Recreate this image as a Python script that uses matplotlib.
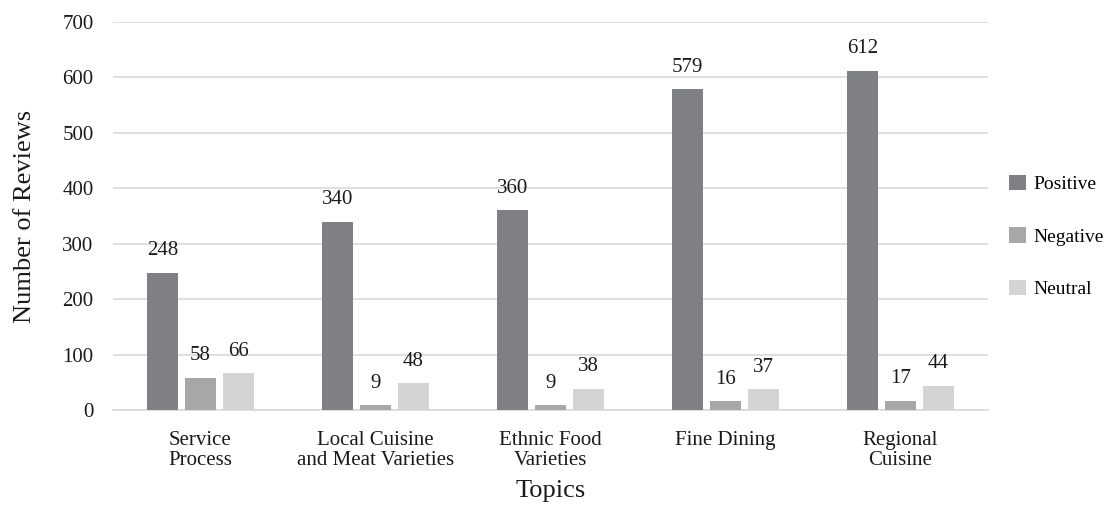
import matplotlib
matplotlib.use("Agg")
import matplotlib.pyplot as plt
import numpy as np

plt.rcParams['font.family'] = ['Liberation Serif', 'DejaVu Serif']

topics = ["Service\nProcess", "Local Cuisine\nand Meat Varieties", "Ethnic Food\nVarieties",
          "Fine Dining", "Regional\nCuisine"]
positive = [248, 340, 360, 579, 612]
negative = [58, 9, 9, 16, 17]
neutral = [66, 48, 38, 37, 44]
series_names = ["Positive", "Negative", "Neutral"]
colors = ["#7f8084", "#a7a7a9", "#d4d4d6"]

fig = plt.figure(figsize=(11.13, 5.07), dpi=100)
ax = fig.add_axes([113 / 1113, 1 - 410 / 507, 875 / 1113, 388 / 507])

x = np.arange(len(topics))
width = 0.177
step = 0.217
for i, (vals, name, col) in enumerate(zip([positive, negative, neutral], series_names, colors)):
    pos = x + (i - 1) * step
    bars = ax.bar(pos, vals, width=width, color=col, label=name, zorder=3)
    for b, v in zip(bars, vals):
        ax.annotate(str(v), (b.get_x() + b.get_width() / 2, v), xytext=(0, 9),
                    textcoords="offset points", ha="center", va="bottom",
                    fontsize=15, color="#1a1a1a")

ax.set_xlim(-0.5, len(topics) - 0.5)
ax.set_ylim(0, 700)
ax.set_yticks(range(0, 701, 100))
ax.yaxis.grid(True, color="#d9d9d9", linewidth=1.2, zorder=0)
ax.set_axisbelow(True)
for s in ["top", "right", "left"]:
    ax.spines[s].set_visible(False)
ax.spines["bottom"].set_color("#d9d9d9")
ax.spines["bottom"].set_linewidth(1.2)
ax.tick_params(axis="both", length=0, labelsize=15, colors="#1a1a1a")
ax.tick_params(axis="y", pad=14)
ax.tick_params(axis="x", pad=15)
ax.set_xticks(x)
ax.set_xticklabels(topics, linespacing=1.1)

ax.set_ylabel("Number of Reviews", fontsize=19, labelpad=19, color="#1a1a1a")
ax.set_xlabel("Topics", fontsize=19, labelpad=7, color="#1a1a1a")

leg = ax.legend(loc="center left", bbox_to_anchor=(1.0, 0.447), frameon=False,
                fontsize=14, handlelength=0.85, handleheight=0.85, labelspacing=1.75,
                handletextpad=0.4, borderaxespad=0.7)

fig.savefig("out.png", dpi=100)
